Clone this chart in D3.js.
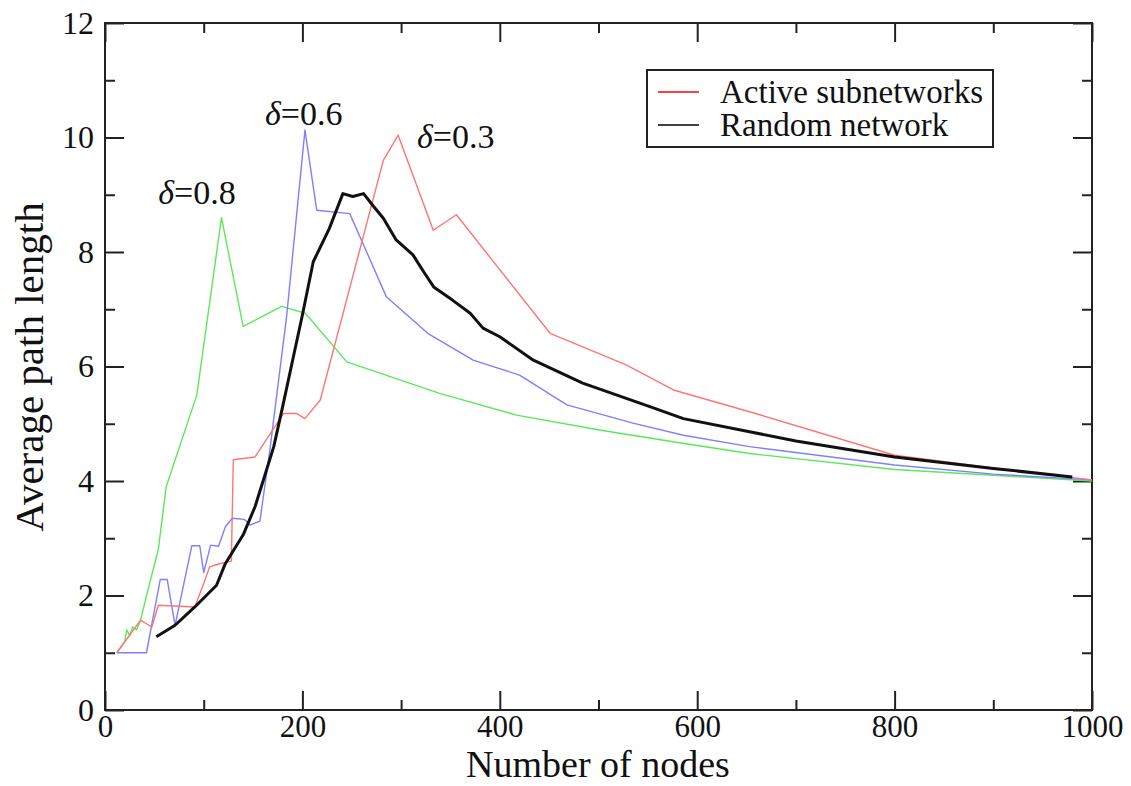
<!DOCTYPE html>
<html>
<head>
<meta charset="utf-8">
<script src="https://cdn.jsdelivr.net/npm/d3@7"></script>
<style>
  html, body { margin: 0; padding: 0; background: #fff; }
  svg { display: block; font-family: "Liberation Serif", "DejaVu Serif", serif; }
</style>
</head>
<body>
<svg id="chart" width="1131" height="786"></svg>
<script>
// Average path length of active subnetworks (three δ values) vs. a random network
const xMajorTicks = [0, 200, 400, 600, 800, 1000];
const yMajorTicks = [0, 2, 4, 6, 8, 10, 12];

const seriesDelta08 = [
  [12, 1.0], [20, 1.2], [22, 1.4], [25, 1.3], [28, 1.45], [32, 1.4], [36, 1.57],
  [45, 2.2], [54, 2.8], [62, 3.9], [93, 5.5], [118, 8.6], [140, 6.7], [179, 7.05],
  [203, 6.93], [245, 6.08], [339, 5.53], [417, 5.15], [501, 4.89], [585, 4.66],
  [653, 4.48], [800, 4.2], [900, 4.1], [1000, 4.0]
];
const seriesDelta06 = [
  [12, 1.0], [42, 1.0], [56, 2.28], [63, 2.28], [71, 1.48], [88, 2.87], [96, 2.87],
  [100, 2.4], [107, 2.88], [115, 2.86], [122, 3.2], [129, 3.35], [141, 3.33],
  [147, 3.23], [157, 3.3], [167, 4.54], [184, 6.87], [202.6, 10.13], [214.5, 8.73],
  [248, 8.67], [285, 7.22], [327, 6.58], [373, 6.11], [420, 5.85], [468, 5.33],
  [535, 5.01], [586, 4.8], [653, 4.6], [800, 4.28], [900, 4.12], [1000, 4.02]
];
const seriesDelta03 = [
  [12, 1.0], [36, 1.57], [47.5, 1.45], [54, 1.83], [91, 1.8], [100, 2.21],
  [106, 2.5], [115, 2.55], [128, 2.6], [130, 4.37], [152, 4.42], [181, 5.18],
  [194, 5.18], [202.5, 5.09], [218, 5.41], [282, 9.6], [297, 10.04], [332.6, 8.38],
  [356, 8.65], [451, 6.58], [528, 6.03], [576, 5.59], [653, 5.21], [800, 4.45],
  [900, 4.23], [1000, 4.02]
];
const seriesRandom = [
  [52, 1.28], [71, 1.48], [91, 1.8], [113, 2.18], [122, 2.56], [140, 3.06],
  [152, 3.55], [162, 4.1], [171, 4.6], [180, 5.3], [190, 6.1], [200, 6.9],
  [211, 7.83], [227, 8.4], [241, 9.02], [251, 8.97], [262, 9.02], [272, 8.8],
  [282, 8.59], [295, 8.21], [312, 7.95], [323, 7.65], [333, 7.39], [352, 7.16],
  [370, 6.93], [383, 6.67], [400, 6.52], [434, 6.11], [484, 5.71], [552, 5.3],
  [586, 5.09], [653, 4.86], [700, 4.7], [800, 4.42], [900, 4.22], [980, 4.07]
];

const deltaLabels = [
  { text: "0.8", x: 54, y: 8.84 },
  { text: "0.6", x: 162, y: 10.22 },
  { text: "0.3", x: 316, y: 9.82 }
];
const legendItems = [
  { name: "Active subnetworks", color: "#ff0000" },
  { name: "Random network", color: "#000000" }
];

const svg = d3.select("#chart");
const plotLeft = 105, plotRight = 1092, plotTop = 23, plotBottom = 710;

const x = d3.scaleLinear().domain([0, 1000]).range([plotLeft, plotRight]);
const y = d3.scaleLinear().domain([0, 12]).range([plotBottom, plotTop]);

const axisColor = "#222";
const serif = "Liberation Serif, Times New Roman, serif";

// frame
svg.append("rect")
  .attr("x", plotLeft).attr("y", plotTop)
  .attr("width", plotRight - plotLeft).attr("height", plotBottom - plotTop)
  .attr("fill", "none").attr("stroke", axisColor).attr("stroke-width", 2);

function styleAxis(size) {
  return g => {
    g.attr("font-family", serif);
    g.select(".domain").remove();
    g.selectAll(".tick line").attr("stroke", axisColor).attr("stroke-width", 2);
    g.selectAll(".tick text").attr("fill", "#111").attr("font-size", size);
  };
}

const xMinor = d3.range(100, 1000, 200);
const yMinor = d3.range(1, 12, 2);

// bottom
svg.append("g").attr("transform", `translate(0,${plotBottom})`)
  .call(d3.axisBottom(x).tickValues(xMajorTicks).tickSize(-19).tickPadding(5).tickFormat(d3.format("d")))
  .call(styleAxis(31));
svg.append("g").attr("transform", `translate(0,${plotBottom})`)
  .call(d3.axisBottom(x).tickValues(xMinor).tickSize(-10).tickFormat(""))
  .call(styleAxis(31));
// top
svg.append("g").attr("transform", `translate(0,${plotTop})`)
  .call(d3.axisTop(x).tickValues(xMajorTicks).tickSize(-19).tickFormat(""))
  .call(styleAxis(31));
svg.append("g").attr("transform", `translate(0,${plotTop})`)
  .call(d3.axisTop(x).tickValues(xMinor).tickSize(-10).tickFormat(""))
  .call(styleAxis(31));
// left
svg.append("g").attr("transform", `translate(${plotLeft},0)`)
  .call(d3.axisLeft(y).tickValues(yMajorTicks).tickSize(-19).tickPadding(11).tickFormat(d3.format("d")))
  .call(styleAxis(32));
svg.append("g").attr("transform", `translate(${plotLeft},0)`)
  .call(d3.axisLeft(y).tickValues(yMinor).tickSize(-10).tickFormat(""))
  .call(styleAxis(32));
// right
svg.append("g").attr("transform", `translate(${plotRight},0)`)
  .call(d3.axisRight(y).tickValues(yMajorTicks).tickSize(-19).tickFormat(""))
  .call(styleAxis(32));
svg.append("g").attr("transform", `translate(${plotRight},0)`)
  .call(d3.axisRight(y).tickValues(yMinor).tickSize(-10).tickFormat(""))
  .call(styleAxis(32));

// axis titles
svg.append("text")
  .attr("x", 598).attr("y", 777)
  .attr("text-anchor", "middle").attr("font-size", 38).attr("fill", "#111")
  .attr("font-family", serif)
  .text("Number of nodes");
svg.append("text")
  .attr("transform", "translate(43,367) rotate(-90)")
  .attr("text-anchor", "middle").attr("font-size", 41).attr("fill", "#111")
  .attr("font-family", serif)
  .text("Average path length");

// lines
const line = d3.line().x(d => x(d[0])).y(d => y(d[1]));
const curves = [
  { data: seriesDelta08, color: "#5be85b", width: 1.4 },
  { data: seriesDelta06, color: "#7f7fff", width: 1.4 },
  { data: seriesDelta03, color: "#ff7474", width: 1.4 },
  { data: seriesRandom, color: "#111", width: 3 }
];
svg.append("g").selectAll("path").data(curves).join("path")
  .attr("d", d => line(d.data))
  .attr("fill", "none")
  .attr("stroke", d => d.color)
  .attr("stroke-width", d => d.width)
  .attr("stroke-linejoin", "round");

// δ annotations (italic delta)
const ann = svg.append("g").selectAll("text").data(deltaLabels).join("text")
  .attr("x", d => x(d.x)).attr("y", d => y(d.y))
  .attr("font-size", 34).attr("fill", "#111").attr("font-family", serif);
ann.append("tspan").attr("font-style", "italic").text("δ");
ann.append("tspan").text(d => "=" + d.text);

// legend
const lg = svg.append("g").attr("font-family", serif);
lg.append("rect").attr("x", 647).attr("y", 70).attr("width", 346).attr("height", 77)
  .attr("fill", "#fff").attr("stroke", axisColor).attr("stroke-width", 2);
const li = lg.selectAll("g.item").data(legendItems).join("g")
  .attr("transform", (d, i) => `translate(0,${92 + i * 33})`);
li.append("line").attr("x1", 658).attr("x2", 699).attr("y1", 0).attr("y2", 0)
  .attr("stroke", d => d.color).attr("stroke-width", 1.5);
li.append("text").attr("x", 720).attr("y", 11)
  .attr("font-size", 33).attr("fill", "#111").text(d => d.name);
</script>
</body>
</html>
